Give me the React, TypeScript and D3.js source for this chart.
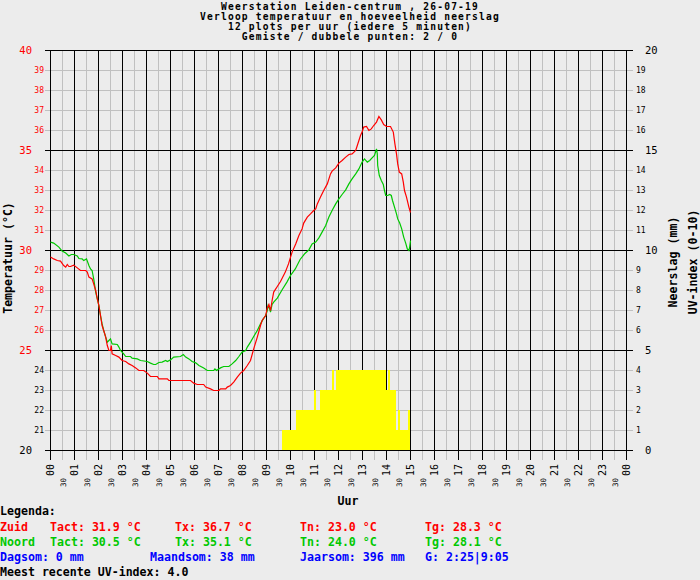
import React, { useRef, useEffect } from 'react';
import * as d3 from 'd3';

// Temperatuur Zuid: [minuten sinds middernacht, °C]
const zuidData: [number, number][] = [
  [0, 29.67], [8, 29.58], [17, 29.5], [25, 29.47], [33, 29.25], [38, 29.17], [42, 29.3], [46, 29.2],
  [50, 29.2], [58, 29.27], [67, 29.13], [75, 29.0], [88, 29.0], [92, 28.92], [96, 28.67], [104, 28.58],
  [108, 28.33], [113, 28.0], [117, 27.58], [121, 27.25], [125, 26.75], [129, 26.25], [133, 26.0],
  [138, 25.67], [142, 25.25], [146, 25.0], [150, 25.0], [152, 25.25], [154, 24.83], [163, 24.75],
  [171, 24.67], [179, 24.5], [188, 24.45], [196, 24.33], [204, 24.25], [213, 24.13], [221, 24.0],
  [233, 24.0], [242, 23.87], [250, 23.7], [267, 23.7], [271, 23.58], [292, 23.58], [296, 23.5],
  [350, 23.5], [358, 23.37], [367, 23.3], [383, 23.3], [388, 23.17], [400, 23.08], [408, 23.0],
  [421, 23.0], [425, 23.08], [438, 23.08], [442, 23.17], [450, 23.25], [458, 23.42], [467, 23.67],
  [475, 23.87], [483, 24.0], [492, 24.25], [500, 24.5], [508, 25.08], [517, 25.67], [525, 26.25],
  [529, 26.5], [538, 26.75], [542, 27.13], [546, 27.3], [550, 27.0], [554, 27.5], [558, 27.92],
  [567, 28.2], [575, 28.45], [587, 28.92], [595, 29.33], [598, 29.53], [604, 29.92], [613, 30.33],
  [621, 30.75], [629, 31.08], [633, 31.37], [642, 31.67], [650, 31.83], [658, 32.0], [663, 32.08],
  [667, 32.33], [675, 32.67], [683, 33.0], [692, 33.33], [700, 33.83], [704, 33.97], [713, 34.13],
  [721, 34.37], [729, 34.5], [738, 34.67], [746, 34.8], [754, 34.83], [763, 35.0], [767, 35.25],
  [771, 35.5], [775, 35.75], [779, 35.92], [783, 36.17], [790, 36.2], [796, 36.0], [802, 36.08],
  [808, 36.25], [815, 36.42], [821, 36.7], [827, 36.53], [833, 36.3], [840, 36.2], [850, 36.2],
  [857, 35.92], [861, 35.33], [865, 34.83], [868, 34.33], [872, 33.92], [878, 33.83], [882, 33.42],
  [885, 33.0], [890, 32.67], [896, 32.17], [900, 31.9],
];

// Temperatuur Noord
const noordData: [number, number][] = [
  [0, 30.42], [8, 30.37], [21, 30.17], [29, 29.97], [38, 29.87], [46, 29.73], [52, 29.8], [58, 29.8],
  [67, 29.73], [71, 29.6], [79, 29.58], [83, 29.5], [90, 29.58], [96, 29.25], [100, 29.08], [104, 29.0],
  [108, 28.58], [113, 27.92], [117, 27.58], [121, 27.25], [125, 26.75], [129, 26.33], [133, 26.0],
  [138, 25.67], [142, 25.42], [146, 25.5], [150, 25.58], [154, 25.33], [167, 25.3], [171, 25.17],
  [175, 25.0], [183, 24.83], [188, 24.7], [200, 24.7], [204, 24.62], [217, 24.58], [225, 24.5],
  [242, 24.45], [250, 24.37], [258, 24.3], [263, 24.3], [271, 24.4], [279, 24.42], [288, 24.5],
  [292, 24.45], [300, 24.53], [308, 24.67], [325, 24.7], [332, 24.8], [338, 24.67], [346, 24.58],
  [354, 24.45], [363, 24.38], [371, 24.25], [383, 24.13], [392, 24.0], [408, 24.0], [411, 24.08],
  [415, 24.0], [425, 24.13], [433, 24.2], [446, 24.2], [454, 24.33], [463, 24.5], [471, 24.7],
  [479, 24.92], [488, 25.0], [492, 25.17], [500, 25.42], [508, 25.7], [517, 26.0], [525, 26.33],
  [532, 26.58], [538, 26.75], [542, 27.0], [544, 27.25], [548, 27.08], [550, 26.92], [554, 27.3],
  [558, 27.42], [567, 27.62], [578, 28.0], [591, 28.42], [600, 28.75], [612, 29.08], [624, 29.55],
  [636, 29.85], [646, 30.03], [654, 30.33], [663, 30.42], [671, 30.63], [679, 30.92], [688, 31.25],
  [696, 31.67], [704, 32.0], [713, 32.33], [721, 32.58], [729, 32.8], [738, 33.03], [746, 33.33],
  [754, 33.58], [763, 33.83], [771, 34.08], [779, 34.42], [785, 34.58], [792, 34.42], [798, 34.5],
  [804, 34.63], [810, 34.75], [815, 35.08], [817, 34.83], [818, 34.25], [822, 33.75], [827, 33.5],
  [832, 33.3], [835, 33.0], [838, 32.75], [843, 32.75], [848, 32.8], [852, 32.75], [855, 32.5],
  [860, 32.17], [865, 31.83], [868, 31.58], [873, 31.37], [878, 31.08], [883, 30.67], [888, 30.37],
  [892, 30.08], [896, 30.0], [898, 30.17], [900, 30.5],
];

// UV-index per 5 minuten, vanaf 09:40
const uvStart = 580;
const uvValues = [
  1, 1, 1, 1, 1, 1, 1,
  2, 2, 2, 2, 2, 2, 2, 2, 2,
  3, 2, 2, 3, 3, 3, 3, 3, 3, 4, 3,
  4, 4, 4, 4, 4, 4, 4, 4, 4, 4, 4, 4, 4, 4, 4, 4, 4, 4, 4, 4, 4, 4, 4, 4, 4,
  3, 4, 3, 3, 3, 1, 2, 1, 1, 1, 1, 2,
];

const titleLines = [
  'Weerstation Leiden-centrum , 26-07-19',
  'Verloop temperatuur en hoeveelheid neerslag',
  '12 plots per uur (iedere 5 minuten)',
  'Gemiste / dubbele punten: 2 / 0',
];

const hourLabels = d3.range(0, 25).map(h => String(h % 24).padStart(2, '0'));

const zuidRow = ['Zuid', 'Tact: 31.9 °C', 'Tx: 36.7 °C', 'Tn: 23.0 °C', 'Tg: 28.3 °C'];
const noordRow = ['Noord', 'Tact: 30.5 °C', 'Tx: 35.1 °C', 'Tn: 24.0 °C', 'Tg: 28.1 °C'];
const sumRow = ['Dagsom: 0 mm', 'Maandsom: 38 mm', 'Jaarsom: 396 mm', 'G: 2:25|9:05'];

const RED = '#ff0000';
const GREEN = '#00c800';
const BLUE = '#0000ff';
const GRAY = '#c0c0c0';
const MONO = "'DejaVu Sans Mono', 'Liberation Mono', monospace";

const App: React.FC = () => {
  const svgRef = useRef<SVGSVGElement | null>(null);

  useEffect(() => {
    const svg = d3.select(svgRef.current);
    svg.selectAll('*').remove();

    const x = d3.scaleLinear().domain([0, 1440]).range([50.5, 626.5]);
    const y = d3.scaleLinear().domain([20, 40]).range([450.5, 50.5]);
    const yR = d3.scaleLinear().domain([0, 20]).range([450.5, 50.5]);

    svg.append('rect').attr('width', 700).attr('height', 580).attr('fill', '#ececec');

    // titel: vier regels, iets kleiner zodat de regels elkaar niet raken
    svg.append('g')
      .selectAll('text')
      .data(titleLines)
      .enter()
      .append('text')
      .attr('x', 350)
      .attr('y', (_, i) => 10 + i * 10)
      .attr('text-anchor', 'middle')
      .style('font-family', MONO)
      .style('font-weight', 'bold')
      .style('font-size', '9.6px')
      .style('letter-spacing', '1.2px')
      .text(d => d);

    const grid = svg.append('g').attr('shape-rendering', 'crispEdges');

    // horizontale lijnen (grijs), daarna verticale
    const temps = d3.range(20, 41);
    grid.selectAll('.hgray')
      .data(temps.filter(t => t % 5 !== 0))
      .enter()
      .append('line')
      .attr('x1', 45).attr('x2', 633)
      .attr('y1', d => y(d)).attr('y2', d => y(d))
      .attr('stroke', GRAY);

    const halfHours = d3.range(0, 24).map(h => h + 0.5);
    grid.selectAll('.vgray')
      .data(halfHours)
      .enter()
      .append('line')
      .attr('x1', d => x(d * 60)).attr('x2', d => x(d * 60))
      .attr('y1', 50.5).attr('y2', 460)
      .attr('stroke', GRAY);

    grid.selectAll('.hblack')
      .data(temps.filter(t => t % 5 === 0))
      .enter()
      .append('line')
      .attr('x1', 45).attr('x2', 633)
      .attr('y1', d => y(d)).attr('y2', d => y(d))
      .attr('stroke', '#000');

    grid.selectAll('.vblack')
      .data(d3.range(0, 25))
      .enter()
      .append('line')
      .attr('x1', d => x(d * 60)).attr('x2', d => x(d * 60))
      .attr('y1', 50.5).attr('y2', 460)
      .attr('stroke', '#000');

    // UV-index staven
    svg.append('g')
      .attr('shape-rendering', 'crispEdges')
      .selectAll('rect')
      .data(uvValues)
      .enter()
      .append('rect')
      .attr('x', (_, i) => x(uvStart + i * 5) - 0.5)
      .attr('width', (_, i) => x(uvStart + (i + 1) * 5) - x(uvStart + i * 5))
      .attr('y', d => yR(d) - 0.5)
      .attr('height', d => yR(0) - yR(d))
      .attr('fill', '#ffff00');

    // temperatuurlijnen
    const line = d3.line<[number, number]>()
      .x(d => x(d[0]))
      .y(d => y(d[1]));

    svg.append('path')
      .datum(noordData)
      .attr('fill', 'none')
      .attr('stroke', GREEN)
      .attr('stroke-width', 1.2)
      .attr('d', line);

    svg.append('path')
      .datum(zuidData)
      .attr('fill', 'none')
      .attr('stroke', RED)
      .attr('stroke-width', 1.2)
      .attr('d', line);

    // linker as labels
    const left = svg.append('g').style('font-family', MONO);
    temps.forEach(t => {
      const big = t % 5 === 0;
      left.append('text')
        .attr('x', big ? 32 : 44)
        .attr('y', y(t))
        .attr('dy', '0.36em')
        .attr('text-anchor', 'end')
        .attr('fill', t >= 25 ? RED : '#000')
        .style('font-size', big ? '10.5px' : '8px')
        .text(t);
    });

    // rechter as labels
    d3.range(0, 21).forEach(v => {
      const big = v % 5 === 0;
      left.append('text')
        .attr('x', big ? 645 : 636)
        .attr('y', yR(v))
        .attr('dy', '0.36em')
        .attr('text-anchor', 'start')
        .style('font-size', big ? '10.5px' : '8px')
        .text(v);
    });

    // uur labels
    hourLabels.forEach((lab, h) => {
      const px = x(h * 60) + 3.6;
      left.append('text')
        .attr('transform', `translate(${px},464) rotate(-90)`)
        .attr('text-anchor', 'end')
        .style('font-size', '10px')
        .text(lab);
    });
    halfHours.forEach(h => {
      const px = x(h * 60) + 3;
      left.append('text')
        .attr('transform', `translate(${px},478) rotate(-90)`)
        .attr('text-anchor', 'end')
        .style('font-size', '7.5px')
        .text('30');
    });

    const bold = svg.append('g')
      .style('font-family', MONO)
      .style('font-weight', 'bold')
      .style('font-size', '11.6px');

    bold.append('text').attr('x', 348).attr('y', 505).attr('text-anchor', 'middle').text('Uur');

    bold.append('text')
      .attr('transform', 'translate(12,258) rotate(-90)')
      .attr('text-anchor', 'middle')
      .text('Temperatuur (°C)');
    bold.append('text')
      .attr('transform', 'translate(677,262) rotate(-90)')
      .attr('text-anchor', 'middle')
      .text('Neerslag (mm)');
    bold.append('text')
      .attr('transform', 'translate(697,262) rotate(-90)')
      .attr('text-anchor', 'middle')
      .text('UV-index (0-10)');

    // legenda
    const cols = [0, 50, 175, 300, 425];
    bold.append('text').attr('x', 0).attr('y', 515).text('Legenda:');
    zuidRow.forEach((s, i) => {
      bold.append('text').attr('x', cols[i]).attr('y', 531).attr('fill', RED).text(s);
    });
    noordRow.forEach((s, i) => {
      bold.append('text').attr('x', cols[i]).attr('y', 546).attr('fill', GREEN).text(s);
    });
    const sumCols = [0, 150, 300, 425];
    sumRow.forEach((s, i) => {
      bold.append('text').attr('x', sumCols[i]).attr('y', 561).attr('fill', BLUE).text(s);
    });
    bold.append('text').attr('x', 0).attr('y', 576).text('Meest recente UV-index: 4.0');
  }, []);

  return (
    <div style={{ position: 'absolute', left: 0, top: 0 }}>
      <svg ref={svgRef} width={700} height={580} style={{ display: 'block' }} />
    </div>
  );
};

export default App;
